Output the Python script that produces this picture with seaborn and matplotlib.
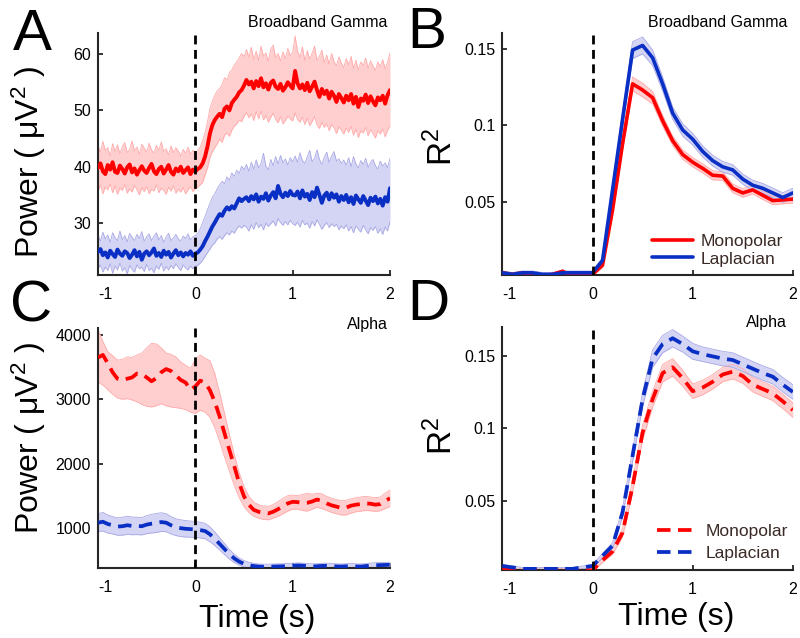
import numpy as np
import matplotlib
matplotlib.use("Agg")
import matplotlib.pyplot as plt
import seaborn as sns

# ---------------- data ----------------
# Panel A: broadband gamma power, 0.025 s steps from -1 to 2 s
gamma_mono = [
    39.8, 40.6, 39.2, 38.7, 40.3, 39.5, 40.8, 39.1, 38.9, 40.2,
    39.6, 38.8, 39.9, 40.4, 39.0, 39.7, 38.6, 39.4, 40.1, 39.3,
    38.9, 39.8, 40.5, 39.2, 38.7, 39.6, 40.0, 38.8, 39.5, 40.3,
    39.1, 38.6, 39.7, 39.2, 40.0, 38.9, 39.4, 39.9, 38.7, 39.5,
    39.2,
    39.6, 39.9, 40.6, 41.8, 43.6, 45.9, 47.4, 48.3, 48.9, 49.4,
    48.8, 50.3, 50.7, 50.0, 51.3, 51.9, 52.4, 53.2, 53.6, 54.4,
    55.4, 54.6, 55.1, 53.9, 55.2, 54.3, 55.7, 54.1, 54.8, 53.7,
    54.9, 55.3, 54.2, 53.8, 54.7, 53.5, 54.1, 55.0, 54.4, 53.9,
    57.0, 54.8, 53.9, 54.6, 53.6, 54.9, 53.4, 54.2, 55.1, 53.6,
    52.4, 53.8, 52.9, 53.5, 52.1, 53.3, 52.6, 51.5, 52.9, 52.2,
    51.4, 52.6, 51.8, 52.9, 51.2, 52.4, 50.6, 52.1, 51.7, 52.8,
    51.3, 52.5, 51.6, 50.9, 52.3, 51.8, 52.6, 51.2, 52.7, 53.6]
gamma_mono_hi = [
    43.8, 42.6, 44.5, 42.9, 43.4, 41.9, 44.1, 42.7, 43.9, 42.3,
    43.6, 44.3, 42.5, 43.1, 44.6, 42.8, 43.5, 42.2, 44.0, 43.3,
    42.6, 44.2, 43.0, 42.4, 43.8, 42.9, 44.4, 42.7, 43.2, 42.1,
    43.7, 42.5, 43.4, 42.8, 41.9, 43.1, 42.4, 43.5, 42.2, 42.9,
    42.6,
    42.8, 43.5, 44.6, 46.1, 48.0, 50.4, 51.6, 52.7, 53.5, 53.9,
    54.6, 55.8, 55.4, 56.7, 57.2, 58.1, 58.6, 59.3, 60.1, 59.5,
    60.8, 59.4, 61.2, 59.0, 60.5, 58.9, 61.4, 59.6, 60.2, 58.7,
    60.9, 61.6, 59.3, 60.1, 58.8, 60.4, 59.2, 61.0, 59.7, 60.3,
    63.2, 60.5, 59.4, 61.3, 58.8, 60.6, 59.1, 60.2, 61.4, 58.9,
    59.6, 60.7, 58.5, 59.8, 58.2, 60.1, 58.7, 57.9, 59.5, 58.4,
    57.6, 59.2, 58.1, 59.6, 57.4, 58.9, 57.2, 58.6, 58.0, 59.3,
    57.5, 58.8, 57.9, 57.1, 58.6, 57.8, 59.0, 57.4, 58.5, 60.2]
gamma_mono_lo = [
    35.6, 36.8, 35.2, 36.4, 35.9, 37.0, 35.4, 36.6, 35.1, 36.2,
    35.8, 36.9, 35.3, 36.1, 35.5, 36.7, 35.9, 35.0, 36.3, 35.6,
    36.5, 35.2, 36.0, 35.7, 36.8, 35.4, 36.2, 35.8, 35.1, 36.4,
    35.7, 36.6, 35.3, 36.0, 35.5, 36.3, 35.2, 35.9, 36.5, 35.6,
    36.1,
    36.4, 36.8, 37.2, 38.5, 39.8, 41.6, 42.7, 43.4, 44.1, 44.9,
    44.3, 45.6, 46.0, 45.4, 46.5, 47.2, 47.6, 48.3, 48.0, 48.9,
    49.6, 48.7, 49.4, 48.2, 49.8, 48.5, 49.9, 48.3, 49.1, 47.9,
    48.8, 49.5, 48.4, 47.8, 48.9, 47.6, 48.2, 49.0, 48.5, 48.1,
    49.6, 48.4, 47.9, 48.8, 47.5, 48.6, 47.3, 48.0, 48.9, 47.4,
    46.8, 47.9, 47.0, 47.6, 46.4, 47.5, 46.9, 45.9, 47.1, 46.5,
    45.8, 46.9, 46.1, 47.2, 45.6, 46.7, 45.2, 46.4, 46.0, 47.0,
    45.5, 46.6, 45.9, 45.1, 46.4, 45.8, 46.7, 45.3, 46.5, 47.2]
gamma_lap = [
    24.9, 25.4, 24.3, 24.8, 23.9, 25.1, 24.5, 24.0, 25.3, 24.6,
    24.2, 25.0, 24.7, 23.8, 24.4, 25.2, 24.1, 24.9, 23.5, 24.6,
    25.0, 24.3, 24.8, 25.5, 24.2, 24.7, 24.0, 25.1, 24.4, 24.9,
    23.9, 24.6, 25.2, 24.3, 24.8, 24.1, 24.7, 24.4, 25.0, 24.2,
    24.6,
    24.8, 25.3, 25.9, 26.8, 27.6, 28.5, 29.4, 30.1, 30.9, 31.6,
    31.3, 32.2, 32.8, 32.4, 33.0, 32.6, 33.5, 34.4, 33.9, 34.3,
    34.6, 33.9, 34.8, 34.2, 35.1, 33.8, 34.7, 34.3, 35.3, 34.0,
    34.9, 35.5, 34.4, 36.6, 35.2, 34.6, 35.4, 34.8, 35.7, 35.0,
    34.9, 35.6, 34.4, 35.8, 34.7, 35.2, 34.1, 35.5, 34.6, 36.3,
    35.0, 33.6, 34.9, 35.4, 34.2, 35.3, 34.5, 35.1, 33.8, 34.8,
    34.1, 35.0, 33.7, 34.6, 33.4, 34.9, 34.2, 33.6, 34.8, 34.0,
    33.2, 34.5, 33.9, 34.7, 33.5, 34.3, 33.1, 34.6, 33.8, 36.2]
gamma_lap_hi = [
    27.9, 26.8, 28.4, 27.2, 27.9, 26.6, 28.3, 27.4, 26.9, 28.6,
    27.1, 27.8, 26.7, 28.2, 27.5, 26.9, 28.0, 27.3, 28.5, 26.8,
    27.6, 28.1, 26.9, 27.7, 28.3, 27.0, 27.8, 26.6, 27.5, 28.2,
    26.9, 27.4, 28.0, 27.2, 26.8, 27.7, 27.3, 28.1, 27.0, 27.6,
    27.8,
    28.2, 29.0, 30.1, 31.2, 32.4, 33.5, 34.6, 35.2, 36.1, 36.8,
    37.4, 37.0, 38.2, 37.6, 38.9, 38.3, 39.4, 38.8, 40.1, 39.5,
    40.4, 39.2, 40.8, 39.6, 41.2, 39.8, 40.6, 42.4, 40.1, 39.5,
    41.3, 40.2, 41.8, 40.5, 42.0, 40.7, 41.4, 40.3, 41.6, 40.9,
    41.9, 40.8, 42.5, 41.1, 40.6, 41.8, 42.9, 40.9, 41.5, 43.0,
    41.3, 40.4, 41.7, 42.6, 40.8, 41.9, 42.7, 41.0, 41.4, 40.6,
    41.2, 40.3, 41.6, 40.0, 41.8, 40.5, 39.8, 41.1, 40.4, 41.5,
    39.9, 40.8, 41.3, 40.2, 39.6, 41.0, 40.1, 40.7, 39.8, 41.5]
gamma_lap_lo = [
    21.9, 22.6, 21.3, 22.2, 21.6, 22.8, 21.1, 22.4, 21.7, 22.9,
    21.5, 22.1, 21.0, 22.5, 21.8, 21.3, 22.6, 21.9, 22.2, 21.4,
    22.7, 21.6, 22.0, 21.2, 22.4, 21.8, 22.9, 21.5, 22.3, 21.7,
    22.5, 21.9, 22.8, 22.1, 21.6, 22.6, 22.0, 21.7, 22.4, 21.9,
    22.3,
    22.5, 22.9, 23.4, 24.1, 24.8, 25.4, 26.1, 26.5, 27.2, 27.6,
    27.1, 27.8, 28.3, 27.9, 28.6, 28.2, 29.0, 29.5, 29.1, 29.6,
    29.3, 28.6, 29.7, 28.9, 30.1, 29.2, 29.8, 28.8, 30.0, 29.4,
    29.9, 30.4, 29.5, 30.8, 30.1, 29.6, 30.3, 29.7, 30.5, 29.9,
    29.6, 30.2, 29.3, 30.5, 29.7, 30.0, 29.1, 30.3, 29.5, 30.6,
    29.8, 28.9, 29.6, 30.1, 29.2, 29.9, 29.4, 29.8, 28.8, 29.5,
    29.0, 29.7, 28.6, 29.4, 28.3, 29.5, 28.9, 28.4, 29.6, 28.8,
    28.1, 29.2, 28.7, 29.4, 28.2, 29.0, 28.0, 29.3, 28.6, 30.2]

# Panel C: alpha power, 0.05 s steps from -1 to 2 s
alpha_mono = [
    3650, 3690, 3560, 3420, 3320, 3300, 3320, 3340, 3400, 3390,
    3340, 3280, 3330, 3420, 3470, 3440, 3370, 3300, 3260, 3150,
    3200, 3290, 3260, 3140, 2960, 2730, 2470, 2210, 1960, 1700,
    1490, 1360, 1280, 1250, 1235, 1225, 1250, 1290, 1340, 1380,
    1405, 1400, 1385, 1390, 1410, 1440, 1420, 1380, 1350, 1330,
    1310, 1315, 1345, 1360, 1370, 1380, 1375, 1360, 1370, 1420,
    1460]
alpha_mono_hi = [
    4080, 3900, 3740, 3680, 3610, 3620, 3660, 3650, 3690, 3720,
    3800, 3870, 3860, 3800, 3720, 3700, 3660, 3580, 3530, 3480,
    3620, 3690, 3640, 3600, 3400, 3100, 2780, 2450, 2140, 1860,
    1640, 1490, 1400, 1360, 1340, 1335, 1360, 1410, 1460, 1500,
    1510, 1500, 1520, 1540, 1520, 1540, 1530, 1490, 1460, 1440,
    1420, 1430, 1450, 1470, 1480, 1490, 1480, 1470, 1480, 1540,
    1590]
alpha_mono_lo = [
    3270, 3220, 3150, 3080, 3020, 3000, 3010, 2990, 2960, 2920,
    2890, 2880, 2900, 2930, 2900, 2880, 2870, 2860, 2840, 2800,
    2780, 2830, 2800, 2720, 2560, 2340, 2100, 1880, 1660, 1470,
    1330, 1240, 1180, 1150, 1130, 1125, 1150, 1180, 1220, 1260,
    1290, 1290, 1270, 1260, 1290, 1320, 1300, 1270, 1240, 1220,
    1200, 1200, 1230, 1250, 1260, 1270, 1265, 1255, 1265, 1300,
    1330]
alpha_lap = [
    1080, 1095, 1060, 1040, 1020, 1025, 1040, 1030, 1030, 1025,
    1050, 1065, 1075, 1090, 1080, 1040, 1010, 995, 985, 980,
    975, 965, 950, 900, 830, 750, 670, 590, 525, 475,
    440, 420, 405, 398, 395, 395, 398, 400, 402, 405,
    410, 415, 412, 405, 400, 402, 408, 410, 405, 400,
    398, 402, 405, 400, 398, 405, 412, 418, 420, 422,
    425]
alpha_lap_err = [
    140, 145, 140, 135, 135, 140, 140, 138, 135, 135,
    140, 145, 148, 145, 140, 135, 130, 130, 128, 125,
    125, 122, 120, 115, 105, 95, 85, 75, 65, 55,
    50, 45, 42, 40, 40, 40, 40, 40, 40, 40,
    40, 40, 40, 40, 40, 40, 40, 40, 40, 40,
    40, 40, 40, 40, 40, 40, 40, 40, 40, 40,
    40]

# Panels B and D: R^2, 0.1 s steps from -0.9 to 2 s
r2_gamma_mono = [
    0.004, 0.003, 0.004, 0.003, 0.002, 0.003, 0.005, 0.002, 0.003, 0.003,
    0.009, 0.045, 0.088, 0.127, 0.123, 0.118, 0.103, 0.090, 0.081, 0.076,
    0.072, 0.0675, 0.067, 0.059, 0.056, 0.058, 0.0545, 0.051, 0.0515, 0.052]
r2_gamma_mono_err = [
    0.001, 0.001, 0.001, 0.001, 0.001, 0.001, 0.001, 0.001, 0.001, 0.001,
    0.0015, 0.003, 0.004, 0.0045, 0.0045, 0.004, 0.0035, 0.003, 0.003, 0.003,
    0.003, 0.003, 0.0028, 0.0028, 0.0028, 0.0027, 0.0027, 0.0027, 0.0026, 0.0026]
r2_gamma_lap = [
    0.004, 0.003, 0.004, 0.004, 0.003, 0.003, 0.004, 0.004, 0.004, 0.004,
    0.012, 0.058, 0.104, 0.149, 0.152, 0.144, 0.127, 0.108, 0.097, 0.091,
    0.083, 0.077, 0.073, 0.071, 0.065, 0.061, 0.059, 0.056, 0.053, 0.056]
r2_gamma_lap_err = [
    0.0012, 0.0012, 0.0012, 0.0012, 0.0012, 0.0012, 0.0012, 0.0012, 0.0012, 0.0012,
    0.002, 0.004, 0.005, 0.0055, 0.0055, 0.005, 0.0045, 0.004, 0.004, 0.0038,
    0.0036, 0.0035, 0.0035, 0.0034, 0.0033, 0.0033, 0.0032, 0.0032, 0.0031, 0.0031]
r2_alpha_mono = [
    0.003, 0.002, 0.002, 0.002, 0.003, 0.003, 0.002, 0.002, 0.002, 0.002,
    0.009, 0.015, 0.028, 0.060, 0.097, 0.120, 0.138, 0.142, 0.1345, 0.1255,
    0.128, 0.132, 0.137, 0.139, 0.136, 0.130, 0.127, 0.124, 0.1185, 0.1125]
r2_alpha_mono_err = [
    0.001, 0.001, 0.001, 0.001, 0.001, 0.001, 0.001, 0.001, 0.001, 0.001,
    0.0015, 0.002, 0.003, 0.004, 0.005, 0.0055, 0.006, 0.006, 0.0055, 0.005,
    0.005, 0.005, 0.005, 0.005, 0.005, 0.005, 0.005, 0.005, 0.005, 0.005]
r2_alpha_lap = [
    0.005, 0.004, 0.003, 0.003, 0.003, 0.003, 0.003, 0.003, 0.004, 0.005,
    0.012, 0.019, 0.042, 0.081, 0.120, 0.148, 0.158, 0.162, 0.158, 0.153,
    0.151, 0.1495, 0.148, 0.147, 0.144, 0.141, 0.138, 0.1355, 0.130, 0.125]
r2_alpha_lap_err = [
    0.001, 0.001, 0.001, 0.001, 0.001, 0.001, 0.001, 0.001, 0.001, 0.001,
    0.0015, 0.002, 0.003, 0.004, 0.005, 0.006, 0.006, 0.006, 0.0055, 0.0055,
    0.005, 0.005, 0.005, 0.005, 0.005, 0.005, 0.005, 0.005, 0.005, 0.005]

t_gamma = np.linspace(-1.0, 2.0, len(gamma_mono))
t_alpha = np.linspace(-1.0, 2.0, len(alpha_mono))
t_r2 = np.linspace(-0.9, 2.0, len(r2_gamma_mono))

# ---------------- styling ----------------
sns.set_style("ticks")
plt.rcParams['font.family'] = ['Liberation Sans', 'DejaVu Sans']
plt.rcParams['mathtext.fontset'] = 'custom'
plt.rcParams['mathtext.rm'] = 'Liberation Sans'
plt.rcParams['mathtext.it'] = 'Liberation Sans:italic'
plt.rcParams['text.color'] = 'black'
plt.rcParams['axes.labelcolor'] = 'black'

RED, BLUE = '#ff0000', '#0a2fc4'
RED_FILL, BLUE_FILL = '#ffcfcf', '#d4d4f4'
RED_EDGE, BLUE_EDGE = '#ffaaaa', '#a8a8e6'
SPINE = '#262626'
DASH = (0, (3.6, 2.0))

fig = plt.figure(figsize=(8, 6.38), dpi=100)
axA = fig.add_axes([0.1225, 0.569, 0.365, 0.379])
axB = fig.add_axes([0.628, 0.569, 0.363, 0.379])
axC = fig.add_axes([0.1225, 0.110, 0.365, 0.376])
axD = fig.add_axes([0.628, 0.107, 0.363, 0.381])


def band(ax, t, lo, hi, fill, edge):
    ax.fill_between(t, lo, hi, color=fill, lw=0, zorder=1)
    ax.plot(t, lo, color=edge, lw=0.6, zorder=1.5)
    ax.plot(t, hi, color=edge, lw=0.6, zorder=1.5)


def finish(ax, xmin, ylim, yticks, ylabels):
    ax.axvline(0, color='k', lw=2.0, ls=(0, (3.2, 2.0)), zorder=5)
    ax.set_xlim(xmin, 2.0)
    ax.set_ylim(*ylim)
    ax.set_xticks([xmin, 0, 1, 2])
    ax.set_xticklabels(['-1', '0', '1', '2'])
    ax.get_xticklabels()[0].set_horizontalalignment('left')
    ax.set_yticks(yticks)
    ax.set_yticklabels(ylabels)
    ax.set_xlabel('')
    ax.set_ylabel('')
    sns.despine(ax=ax)
    for s in ('left', 'bottom'):
        ax.spines[s].set_color(SPINE)
        ax.spines[s].set_linewidth(1.5)
    ax.tick_params(direction='in', length=3.5, width=1.3, color=SPINE,
                   labelsize=11.5, labelcolor='black')
    ax.tick_params(axis='x', pad=9)
    ax.tick_params(axis='y', pad=5)


# A: broadband gamma power
band(axA, t_gamma, gamma_mono_lo, gamma_mono_hi, RED_FILL, RED_EDGE)
band(axA, t_gamma, gamma_lap_lo, gamma_lap_hi, BLUE_FILL, BLUE_EDGE)
sns.lineplot(x=t_gamma, y=gamma_mono, ax=axA, color=RED, lw=2.8, errorbar=None, zorder=3)
sns.lineplot(x=t_gamma, y=gamma_lap, ax=axA, color=BLUE, lw=2.8, errorbar=None, zorder=3)
finish(axA, -1.0, (20.8, 63.7), [30, 40, 50, 60], ['30', '40', '50', '60'])

# B: R^2 broadband gamma
for m, e, fill, edge, c, lab in [
        (r2_gamma_mono, r2_gamma_mono_err, RED_FILL, RED_EDGE, RED, 'Monopolar'),
        (r2_gamma_lap, r2_gamma_lap_err, BLUE_FILL, BLUE_EDGE, BLUE, 'Laplacian')]:
    m, e = np.array(m), np.array(e)
    band(axB, t_r2, m - e, m + e, fill, edge)
    sns.lineplot(x=t_r2, y=m, ax=axB, color=c, lw=2.6, errorbar=None, zorder=3, label=lab)
finish(axB, -0.9, (0.0026, 0.16), [0.05, 0.1, 0.15], ['0.05', '0.1', '0.15'])

# C: alpha power
band(axC, t_alpha, alpha_mono_lo, alpha_mono_hi, RED_FILL, RED_EDGE)
la, le = np.array(alpha_lap), np.array(alpha_lap_err)
band(axC, t_alpha, la - le, la + le, BLUE_FILL, BLUE_EDGE)
sns.lineplot(x=t_alpha, y=alpha_mono, ax=axC, color=RED, lw=2.7, ls=DASH, errorbar=None, zorder=3)
sns.lineplot(x=t_alpha, y=alpha_lap, ax=axC, color=BLUE, lw=2.7, ls=DASH, errorbar=None, zorder=3)
finish(axC, -1.0, (378, 4110), [1000, 2000, 3000, 4000], ['1000', '2000', '3000', '4000'])

# D: R^2 alpha
for m, e, fill, edge, c, lab in [
        (r2_alpha_mono, r2_alpha_mono_err, RED_FILL, RED_EDGE, RED, 'Monopolar'),
        (r2_alpha_lap, r2_alpha_lap_err, BLUE_FILL, BLUE_EDGE, BLUE, 'Laplacian')]:
    m, e = np.array(m), np.array(e)
    band(axD, t_r2, m - e, m + e, fill, edge)
    sns.lineplot(x=t_r2, y=m, ax=axD, color=c, lw=2.7, ls=DASH, errorbar=None, zorder=3, label=lab)
finish(axD, -0.9, (0.0024, 0.17), [0.05, 0.1, 0.15], ['0.05', '0.1', '0.15'])

# legends
for ax, anchor, spacing in [(axB, (0.965, 0.035), 0.15), (axD, (0.985, 0.035), 0.4)]:
    leg = ax.legend(loc='lower right', bbox_to_anchor=anchor, frameon=False,
                    fontsize=12.5, handlelength=2.4, handletextpad=0.4,
                    labelspacing=spacing, borderpad=0, borderaxespad=0)
    for txt in leg.get_texts():
        txt.set_color('#3a2a26')

# band titles
axA.text(0.99, 1.025, 'Broadband Gamma', transform=axA.transAxes, ha='right', va='baseline', fontsize=11.5)
axB.text(0.983, 1.025, 'Broadband Gamma', transform=axB.transAxes, ha='right', va='baseline', fontsize=11.5)
axC.text(0.993, 0.996, 'Alpha', transform=axC.transAxes, ha='right', va='baseline', fontsize=11.5)
axD.text(0.978, 1.0, 'Alpha', transform=axD.transAxes, ha='right', va='baseline', fontsize=11.5)

# axis labels
ylab_power = r'Power ( μV$^{\mathregular{2}}$ )'
axA.text(-0.202, 0.467, ylab_power, transform=axA.transAxes, rotation=90,
         rotation_mode='anchor', ha='center', va='baseline', fontsize=23)
axC.text(-0.202, 0.54, ylab_power, transform=axC.transAxes, rotation=90,
         rotation_mode='anchor', ha='center', va='baseline', fontsize=23)
axB.text(-0.172, 0.53, r'R$^{\mathregular{2}}$', transform=axB.transAxes, rotation=90,
         rotation_mode='anchor', ha='center', va='baseline', fontsize=24)
axD.text(-0.172, 0.55, r'R$^{\mathregular{2}}$', transform=axD.transAxes, rotation=90,
         rotation_mode='anchor', ha='center', va='baseline', fontsize=24)
axC.text(0.546, -0.246, 'Time (s)', transform=axC.transAxes, ha='center', va='baseline', fontsize=23)
axD.text(0.597, -0.226, 'Time (s)', transform=axD.transAxes, ha='center', va='baseline', fontsize=23)

# panel letters
for letter, x, y in [('A', 13, 50), ('B', 407, 48), ('C', 10, 321), ('D', 407, 320)]:
    fig.text(x / 800, 1 - y / 638, letter, ha='left', va='baseline', fontsize=42, color='black')

plt.savefig('out.png', dpi=100)
